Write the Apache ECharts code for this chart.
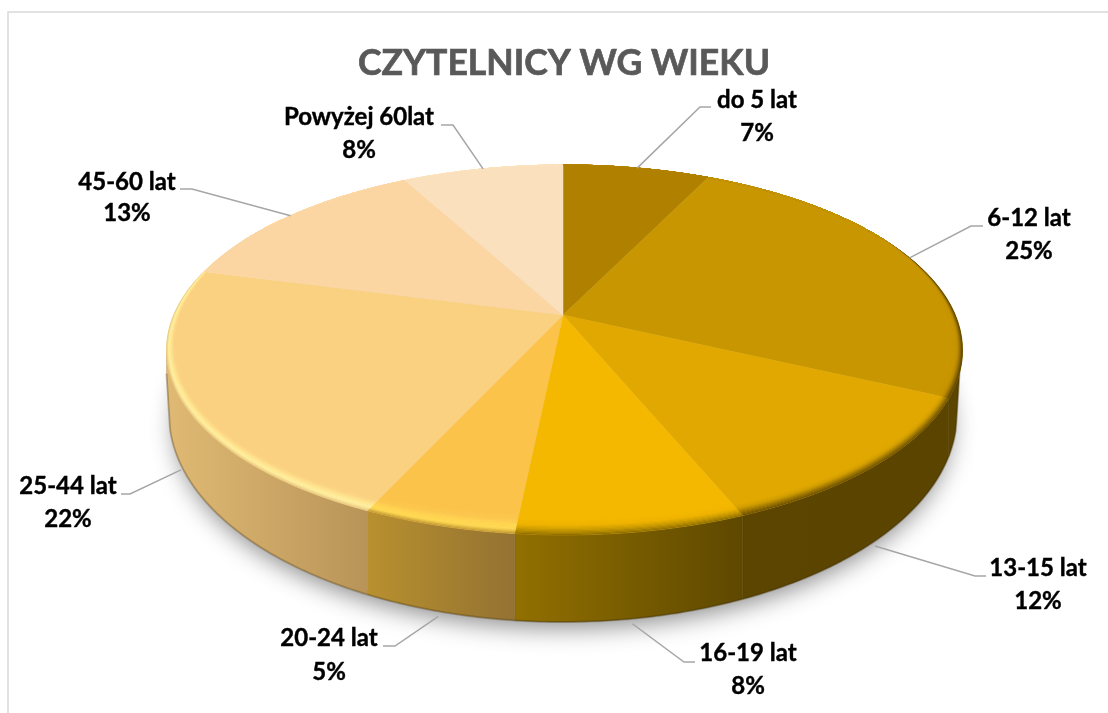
<!DOCTYPE html>
<html>
<head>
<meta charset="utf-8">
<style>html,body{margin:0;padding:0;background:#fff}#c{width:1108px;height:713px}</style>
<script src="https://cdn.jsdelivr.net/npm/echarts@6/dist/echarts.min.js"></script>
</head>
<body>
<div id="c"></div>
<script>
// ---- data ----
const titleText = 'CZYTELNICY WG WIEKU';
const categories = ['do 5 lat','6-12 lat','13-15 lat','16-19 lat','20-24 lat','25-44 lat','45-60 lat','Powyżej 60lat'];
const values = [7,25,12,8,5,22,13,8];

// ---- styles ----
const topColors = ['#B08000','#C89600','#E0A800','#F4B800','#FCC34B','#FAD081','#FBD6A3','#FBE0BE'];
const wallColors = [
  ['#5C4500','#5C4500'],['#5C4500','#5C4500'],['#5C4500','#5A4400'],['#927000','#5E4800'],
  ['#B8902F','#947232'],['#E0BA74','#B89458'],['#E0BA74','#E0BA74'],['#E0BA74','#E0BA74']
];
const bevelRamps = [
  ['#B08000','#B08000'],
  ['#4D3A00','#8A6800','#BC8C00','#C89600','#C89600'],
  ['#634A00','#9A7400','#D09C00','#E0A800','#E0A800'],
  ['#8A6A00','#C49600','#EEB200','#F4B800','#F4B800'],
  ['#BE9430','#FFDB55','#FFD552','#FCC750','#FCC34B'],
  ['#E6C47C','#FFF2A4','#FFE690','#FBD484','#FAD081'],
  ['#FBD6A3','#FBD6A3'],
  ['#FBE0BE','#FBE0BE']
];

// ---- layout ----
const apex = [563, 315];          // where the slices meet
const aspect = 2.13;              // horizontal stretch of the tilted disc
const skew = 0.05;                // slight sideways lean of the view
const topDisc = {cx:564.5, cy:350, rx:398, ry:185};
const baseDisc = {cx:563, cy:414, rx:394, ry:208};
const labelLayout = [
  {x:757, y:[100,133], elbow:[[700,107],[711,107]]},
  {x:1029,y:[218,251], elbow:[[971,226],[983,226]]},
  {x:1038,y:[568,601], elbow:[[975,576],[986,576]]},
  {x:748, y:[653,686], elbow:[[684,662],[695,662]]},
  {x:329, y:[638,672], elbow:[[395,646],[383,646]]},
  {x:68,  y:[486,519], elbow:[[130,494],[121,494]]},
  {x:127, y:[182,213], elbow:[[192,189],[180,189]]},
  {x:359, y:[117,150], elbow:[[453,125],[441,125]]}
];

const total = values.reduce((a,b)=>a+b,0);
const starts = []; values.reduce((acc,v,i)=>(starts[i]=acc,acc+v),0);

function rim(theta){ // ray from apex to the top ellipse
  const lean = skew*Math.min(1,theta/0.4)*Math.max(0,Math.min(1,(3.6-theta)/0.35));
  const dx = aspect*Math.sin(theta)+lean, dy = -Math.cos(theta);
  const ox = (apex[0]-topDisc.cx)/topDisc.rx, oy = (apex[1]-topDisc.cy)/topDisc.ry;
  const ux = dx/topDisc.rx, uy = dy/topDisc.ry;
  const a = ux*ux+uy*uy, b = 2*(ox*ux+oy*uy), c = ox*ox+oy*oy-1;
  const t = (-b+Math.sqrt(b*b-4*a*c))/(2*a);
  return [apex[0]+dx*t, apex[1]+dy*t];
}
function baseY(x){
  const d = Math.abs(x-baseDisc.cx);
  if (d < baseDisc.rx-1) return baseDisc.cy + baseDisc.ry*Math.sqrt(1-d*d/(baseDisc.rx*baseDisc.rx));
  const edge = baseDisc.cy + baseDisc.ry*Math.sqrt(1-(baseDisc.rx-1)*(baseDisc.rx-1)/(baseDisc.rx*baseDisc.rx));
  const span = topDisc.rx-(baseDisc.rx-1);
  return topDisc.cy + (edge-topDisc.cy)*Math.max(0,(topDisc.rx-d))/span;
}
function bevelPoint(theta, t){
  const p = rim(theta);
  const s = Math.min(1, Math.max(0,(p[1]-240)/295));
  const w = 20*Math.pow(s,0.7)*t;
  const vx = apex[0]-p[0], vy = apex[1]-p[1], r = Math.hypot(vx,vy);
  return [p[0]+vx/r*w, p[1]+vy/r*w];
}

function renderSlice(params, api){
  const i = params.dataIndex;
  const v = api.value(0);
  const a0 = starts[i]/total*2*Math.PI, a1 = (starts[i]+v)/total*2*Math.PI;
  const n = Math.max(12, Math.round(v*6));
  const thetas = []; for(let k=0;k<=n;k++) thetas.push(a0+(a1-a0)*k/n);
  const children = [];

  if (i===0){ // soft ground shadow
    const pts=[]; for(let k=0;k<240;k++){const q=k/240*2*Math.PI;
      pts.push([baseDisc.cx+(baseDisc.rx-6)*Math.cos(q), baseDisc.cy+2+(baseDisc.ry-6)*Math.sin(q)]);}
    children.push({type:'polygon', z2:1, shape:{points:pts},
      style:{fill:'#d8d8d8', shadowBlur:24, shadowColor:'rgba(0,0,0,0.45)', shadowOffsetY:10}});
  }

  // side wall (only the front part of the rim)
  const front = thetas.map(rim).filter(p=>p[1]>=topDisc.cy);
  if (front.length>1){
    const left = front.slice().sort((p,q)=>p[0]-q[0]);
    const bottom = left.map(p=>[p[0],baseY(p[0])]).reverse();
    children.push({type:'polygon', z2:2, shape:{points:left.concat(bottom)},
      style:{fill:new echarts.graphic.LinearGradient(0,0,1,0,[
        {offset:0,color:wallColors[i][0]},{offset:1,color:wallColors[i][1]}]),
        stroke:wallColors[i][1], lineWidth:0.4}});
    children.push({type:'polyline', z2:2, shape:{points:bottom},
      style:{fill:'none', stroke:'rgba(50,35,0,0.25)', lineWidth:2}});
  }

  // top face
  children.push({type:'polygon', z2:3, shape:{points:[apex].concat(thetas.map(rim))},
    style:{fill:topColors[i], stroke:topColors[i], lineWidth:0.5}});

  // bevel along the rim
  const N = 16;
  for(let j=0;j<N;j++){
    const t0=j/N, t1=(j+1)/N;
    const outer = thetas.map(q=>bevelPoint(q,t0));
    const inner = thetas.map(q=>bevelPoint(q,t1)).reverse();
    const col = echarts.color.lerp((j+0.5)/N, bevelRamps[i]);
    children.push({type:'polygon', z2:4, shape:{points:outer.concat(inner)},
      style:{fill:col, stroke:col, lineWidth:0.4}});
  }

  // leader line, anchored at the slice's mid-angle
  const mid = (a0+a1)/2, mp = rim(mid);
  const anchor = mp[1]>topDisc.cy+20 ? [mp[0], baseY(mp[0])+5] : [mp[0], mp[1]];
  const lay = labelLayout[i];
  children.push({type:'polyline', z2:5, shape:{points:[anchor].concat(lay.elbow)},
    style:{fill:'none', stroke:'#A6A6A6', lineWidth:1.5}});
  const font = 'bold 24px Lato, sans-serif';
  const textStyle = {font, fill:'#000', stroke:'#000', lineWidth:0.4, align:'center', verticalAlign:'middle'};
  children.push({type:'text', z2:6, style:Object.assign({x:lay.x,y:lay.y[0],text:categories[i]},textStyle)});
  children.push({type:'text', z2:6, style:Object.assign({x:lay.x,y:lay.y[1],text:v+'%'},textStyle)});

  return {type:'group', children};
}

const chart = echarts.init(document.getElementById('c'), null, {renderer:'canvas'});
chart.setOption({
  animation:false,
  backgroundColor:'#fff',
  title:{text:titleText, left:559, top:41, textAlign:'center',
    textStyle:{fontFamily:'Lato, sans-serif', fontWeight:'bold', fontSize:35.6, color:'#595959',
      textBorderColor:'#595959', textBorderWidth:0.7}},
  graphic:[{type:'rect', z:-1, shape:{x:8,y:12,width:1300,height:900},
    style:{fill:'none', stroke:'#D9D9D9', lineWidth:1.5}}],
  series:[{
    type:'custom', coordinateSystem:'none', renderItem:renderSlice,
    data:categories.map((name,i)=>({name, value:[values[i]]})),
    silent:true, clip:false
  }]
});
</script>
</body>
</html>
